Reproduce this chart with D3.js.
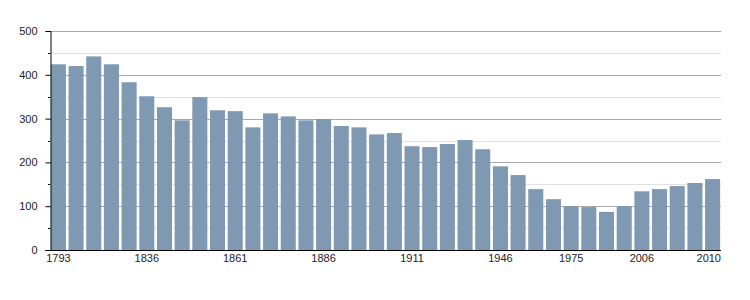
<!DOCTYPE html>
<html>
<head>
<meta charset="utf-8">
<script src="https://cdn.jsdelivr.net/npm/d3@7"></script>
<style>
  body { margin: 0; background: #fff; }
  text { font-family: "Liberation Sans", Arial, sans-serif; font-size: 11px; fill: #222; }
</style>
</head>
<body>
<svg width="750" height="300"></svg>
<script>
// census years and population
var years = [1793, 1800, 1806, 1821, 1831, 1836, 1841, 1846, 1851, 1856,
             1861, 1866, 1872, 1876, 1881, 1886, 1891, 1896, 1901, 1906,
             1911, 1921, 1926, 1931, 1936, 1946, 1954, 1962, 1968, 1975,
             1982, 1990, 1999, 2006, 2007, 2008, 2009, 2010];
var population = [424, 420, 442, 424, 383, 351, 326, 296, 349, 319,
                  317, 280, 312, 305, 296, 299, 283, 280, 264, 267,
                  237, 235, 242, 251, 230, 191, 171, 139, 116, 100,
                  98, 87, 100, 134, 139, 146, 153, 162];
var yearLabels = [1793, 1836, 1861, 1886, 1911, 1946, 1975, 2006, 2010];
var majorTicks = [0, 100, 200, 300, 400, 500];
var minorTicks = [50, 150, 250, 350, 450];

var svg = d3.select("svg");
var plotLeft = 50, plotRight = 721, plotTop = 31, plotBottom = 250;

var x = d3.scaleBand()
    .domain(years)
    .range([plotLeft, plotRight])
    .paddingInner(0.15)
    .paddingOuter(0.05);

var y = d3.scaleLinear()
    .domain([0, 500])
    .range([plotBottom, plotTop]);

function yLine(d) { return Math.round(y(d)) + 0.5; }

// grid lines
svg.append("g").selectAll("line")
    .data(minorTicks)
    .enter().append("line")
    .attr("x1", plotLeft).attr("x2", plotRight)
    .attr("y1", yLine).attr("y2", yLine)
    .attr("stroke", "#e0e0e0");

svg.append("g").selectAll("line")
    .data(majorTicks.slice(1))
    .enter().append("line")
    .attr("x1", plotLeft).attr("x2", plotRight)
    .attr("y1", yLine).attr("y2", yLine)
    .attr("stroke", "#aaa");

// bars
svg.append("g").selectAll("rect")
    .data(years)
    .enter().append("rect")
    .attr("x", function(d) { return x(d); })
    .attr("width", x.bandwidth())
    .attr("y", function(d, i) { return y(population[i]); })
    .attr("height", function(d, i) { return plotBottom - y(population[i]); })
    .attr("fill", "#7f99b2");

// y axis
var yAxis = svg.append("g")
    .attr("transform", "translate(" + (plotLeft + 0.5) + ",0)")
    .call(d3.axisLeft(y).tickValues(majorTicks).tickSize(5).tickPadding(8));
yAxis.select(".domain").attr("stroke", "#000");
yAxis.selectAll(".tick line").attr("stroke", "#000");
yAxis.selectAll(".tick text").attr("font-family", null).attr("font-size", null);
yAxis.attr("font-family", null).attr("font-size", null);

svg.append("g").selectAll("line")
    .data(minorTicks)
    .enter().append("line")
    .attr("x1", plotLeft - 2).attr("x2", plotLeft)
    .attr("y1", yLine).attr("y2", yLine)
    .attr("stroke", "#000");

// x axis line
svg.append("line")
    .attr("x1", plotLeft).attr("x2", plotRight)
    .attr("y1", plotBottom + 0.5).attr("y2", plotBottom + 0.5)
    .attr("stroke", "#000");

// year labels
svg.append("g").selectAll("text")
    .data(yearLabels)
    .enter().append("text")
    .attr("x", function(d, i) {
        return i === yearLabels.length - 1 ? plotRight : x(d) + x.bandwidth() / 2;
    })
    .attr("y", plotBottom + 12)
    .attr("text-anchor", function(d, i) { return i === yearLabels.length - 1 ? "end" : "middle"; })
    .text(function(d) { return d; });
</script>
</body>
</html>
